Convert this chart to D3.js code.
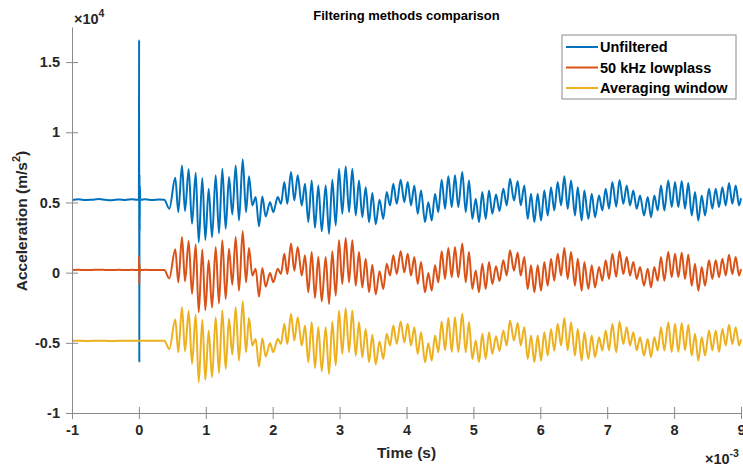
<!DOCTYPE html>
<html>
<head>
<meta charset="utf-8">
<script src="https://cdn.jsdelivr.net/npm/d3@7/dist/d3.min.js"></script>
<style>
  html, body { margin: 0; padding: 0; background: #fff; }
  svg { display: block; font-family: "Liberation Sans", Arial, Helvetica, sans-serif; }
</style>
</head>
<body>
<svg id="chart" width="743" height="467"></svg>
<script>
// Time in milliseconds (axis shows seconds with a x10^-3 multiplier)
const timeMs = [
  -1, -0.9, -0.8, -0.7, -0.6, -0.5, -0.4, -0.3, -0.2, -0.1, -0.03, 0, 0.003, 0.006, 0.009, 0.012, 0.015, 0.02, 0.1, 0.2, 0.3, 0.38,
  0.454, 0.544, 0.589, 0.644, 0.689, 0.744, 0.794, 0.849, 0.894, 0.948, 0.993, 1.043, 1.093, 1.148, 1.197, 1.247, 1.297, 1.347, 1.396, 1.447,
  1.496, 1.552, 1.601, 1.646, 1.695, 1.746, 1.795, 1.845, 1.895, 1.960, 2.009, 2.075, 2.124, 2.174, 2.218, 2.274, 2.323, 2.374, 2.434, 2.483,
  2.532, 2.583, 2.632, 2.682, 2.733, 2.792, 2.842, 2.891, 2.942, 2.991, 3.040, 3.091, 3.141, 3.190, 3.241, 3.290, 3.339, 3.390, 3.440, 3.489,
  3.540, 3.597, 3.653, 3.704, 3.754, 3.803, 3.854, 3.913, 3.967, 4.018, 4.067, 4.117, 4.168, 4.217, 4.277, 4.326, 4.377, 4.426, 4.475, 4.526,
  4.576, 4.625, 4.676, 4.725, 4.774, 4.834, 4.885, 4.934, 4.984, 5.035, 5.084, 5.133, 5.184, 5.233, 5.283, 5.338, 5.390, 5.447, 5.498, 5.547,
  5.607, 5.662, 5.707, 5.761, 5.812, 5.861, 5.911, 5.961, 6.011, 6.060, 6.111, 6.160, 6.209, 6.260, 6.310, 6.359, 6.410, 6.459, 6.519, 6.559,
  6.619, 6.658, 6.718, 6.769, 6.818, 6.878, 6.927, 6.978, 7.027, 7.077, 7.135, 7.184, 7.241, 7.292, 7.341, 7.390, 7.441, 7.491, 7.550, 7.606,
  7.655, 7.704, 7.755, 7.804, 7.854, 7.913, 7.964, 8.014, 8.063, 8.114, 8.163, 8.212, 8.263, 8.313, 8.362, 8.413, 8.462, 8.522, 8.571, 8.622,
  8.672, 8.721, 8.772, 8.821, 8.870, 8.921, 8.971, 9.000
];

// Acceleration (m/s^2), one array per signal, offset for display
const unfiltered = [
  5180, 5220, 5170, 5200, 5240, 5190, 5160, 5210, 5180, 5230, 5190, 5200, 16600, -6400, 7000, 3000, 6200, 5190, 5230, 5170, 5210, 5190,
  4550, 6760, 4310, 7640, 4380, 7360, 3480, 7120, 2170, 6740, 2330, 5980, 2520, 6930, 2810, 7410, 3120, 6810, 4140, 7640,
  3710, 8070, 4310, 6860, 4790, 5380, 3290, 5430, 4000, 5020, 4310, 5380, 4900, 6450, 4900, 7170, 5140, 6930, 4790, 6330,
  3600, 6570, 3190, 6210, 2950, 6210, 2760, 6620, 3360, 7410, 4190, 7570, 4310, 7410, 4070, 6570, 3950, 6090, 3600, 5670,
  3450, 5200, 3830, 5740, 4790, 6330, 4900, 6620, 5020, 6450, 4790, 6210, 4190, 5860, 3600, 5020, 3710, 5620, 4310, 6620,
  4550, 6860, 4670, 6930, 4670, 7170, 4310, 6570, 3830, 5260, 3600, 5740, 3830, 5860, 4190, 5560, 4400, 5980, 4790, 6690,
  5140, 6520, 4790, 6210, 3830, 5620, 3600, 5620, 3710, 5860, 4070, 6090, 4430, 6450, 4790, 6860, 4550, 6570, 4070, 6090,
  3710, 5860, 3830, 5620, 3950, 5500, 4430, 5980, 4550, 6450, 4700, 6600, 4900, 6210, 4790, 5860, 4550, 5500, 4070, 5380,
  3950, 5500, 4430, 6210, 4430, 6570, 4670, 6450, 4670, 6520, 4550, 6380, 4070, 5740, 3710, 5500, 4070, 5980, 4550, 5980,
  4670, 6090, 4790, 6380, 4900, 6210, 4790, 5300
];

const lowpass50k = [
  190, 200, 180, 190, 210, 190, 180, 200, 190, 200, 190, 190, 1210, -860, 600, 0, 300, 190, 200, 180, 190, 190,
  -420, 1660, -690, 2540, -620, 2260, -1520, 2020, -2830, 1640, -2670, 880, -2480, 1830, -2190, 2310, -1880, 1710, -860, 2540,
  -1290, 2970, -690, 1760, -210, 280, -1710, 330, -1000, -30, -690, 280, -100, 1350, -100, 2070, 140, 1830, -210, 1230,
  -1400, 1470, -1810, 1110, -2050, 1110, -2240, 1520, -1640, 2310, -810, 2470, -690, 2310, -930, 1470, -1050, 990, -1400, 570,
  -1550, 100, -1170, 640, -210, 1230, -100, 1520, 20, 1350, -210, 1110, -810, 760, -1400, -30, -1290, 520, -690, 1520,
  -450, 1760, -330, 1830, -330, 2070, -690, 1470, -1170, 160, -1400, 640, -1170, 760, -810, 460, -600, 880, -210, 1590,
  140, 1420, -210, 1110, -1170, 520, -1400, 520, -1290, 760, -930, 990, -570, 1350, -210, 1760, -450, 1470, -930, 990,
  -1290, 760, -1170, 520, -1050, 400, -570, 880, -450, 1350, -300, 1500, -100, 1110, -210, 760, -450, 400, -930, 280,
  -1050, 400, -570, 1110, -570, 1470, -330, 1350, -330, 1420, -450, 1280, -930, 640, -1290, 400, -930, 880, -450, 880,
  -330, 990, -210, 1280, -100, 1110, -210, 250
];

const averagingWindow = [
  -4860, -4850, -4870, -4860, -4850, -4860, -4870, -4860, -4860, -4850, -4860, -4860, -4860, -4860, -4860, -4860, -4860, -4860, -4850, -4860, -4860, -4860,
  -5450, -3340, -5670, -2460, -5600, -2740, -6500, -2980, -7810, -3360, -7650, -4120, -7460, -3170, -7170, -2690, -6860, -3290, -5840, -2460,
  -6270, -2030, -5670, -3240, -5190, -4720, -6690, -4670, -5980, -5030, -5670, -4720, -5080, -3650, -5080, -2930, -4840, -3170, -5190, -3770,
  -6380, -3530, -6790, -3890, -7030, -3890, -7220, -3480, -6620, -2690, -5790, -2530, -5670, -2690, -5910, -3530, -6030, -4010, -6380, -4430,
  -6530, -4900, -6150, -4360, -5190, -3770, -5080, -3480, -4960, -3650, -5190, -3890, -5790, -4240, -6380, -5030, -6270, -4480, -5670, -3480,
  -5530, -3240, -5650, -3170, -5650, -2930, -5670, -3530, -6150, -4840, -6380, -4360, -6150, -4240, -5790, -4540, -5580, -4120, -5190, -3410,
  -4840, -3580, -5190, -3890, -6150, -4480, -6380, -4480, -6270, -4240, -5910, -4010, -5550, -3650, -5190, -3240, -5530, -3530, -5910, -4010,
  -6270, -4240, -6150, -4480, -6030, -4600, -5550, -4120, -5530, -3650, -5680, -3500, -5080, -3890, -5190, -4240, -5530, -4600, -5910, -4720,
  -6030, -4600, -5550, -3890, -5550, -3530, -5650, -3650, -5650, -3580, -5530, -3720, -5910, -4360, -6270, -4600, -5910, -4120, -5530, -4120,
  -5650, -4010, -5190, -3720, -5080, -3890, -5190, -4750
];

const seriesNames = ["Unfiltered", "50 kHz lowplass", "Averaging window"];
const seriesColors = ["#0072BD", "#D95319", "#EDB120"];
const xTicks = [-1, 0, 1, 2, 3, 4, 5, 6, 7, 8, 9];
const yTicks = [-10000, -5000, 0, 5000, 10000, 15000];

const svg = d3.select("#chart");
const axisColor = "#262626";
const gridGray = "#8a8a8a";
const tickFont = 14.5;
// plain hyphen for negative tick labels
const plain = v => String(+v.toFixed(4));

const x = d3.scaleLinear().domain([-1, 9]).range([72, 741]);
const y = d3.scaleLinear().domain([-10000, 17500]).range([413, 27]);

// Signals
const signals = [unfiltered, lowpass50k, averagingWindow];
const line = d3.line()
  .x((d, i) => x(timeMs[i]))
  .y(d => y(d))
  .curve(d3.curveMonotoneX);

const plot = svg.append("g");
signals.forEach((vals, k) => {
  plot.append("path")
    .datum(vals)
    .attr("fill", "none")
    .attr("stroke", seriesColors[k])
    .attr("stroke-width", 2)
    .attr("stroke-linejoin", "round")
    .attr("d", line);
});

// Axes (ticks on both sides of the axis line)
const tick = 6;
const xAxis = svg.append("g")
  .attr("transform", `translate(0,${y.range()[0]})`)
  .call(d3.axisBottom(x).tickValues(xTicks).tickFormat(plain)
    .tickSizeInner(tick).tickSizeOuter(0).tickPadding(6));
xAxis.selectAll(".tick line").attr("y1", -tick);

const yAxis = svg.append("g")
  .attr("transform", `translate(${x.range()[0]},0)`)
  .call(d3.axisLeft(y).tickValues(yTicks).tickFormat(d => plain(d / 10000))
    .tickSizeInner(tick).tickSizeOuter(0).tickPadding(6));
yAxis.selectAll(".tick line").attr("x1", tick);

[xAxis, yAxis].forEach(g => {
  g.select(".domain").attr("stroke", gridGray).attr("stroke-width", 1);
  g.selectAll(".tick line").attr("stroke", gridGray).attr("stroke-width", 1);
  g.selectAll(".tick text")
    .attr("fill", axisColor)
    .attr("font-size", tickFont)
    .attr("font-weight", "bold")
    .attr("font-family", "'Liberation Sans', Arial, sans-serif");
});

// Exponent labels
const yExp = svg.append("text")
  .attr("x", 74).attr("y", 24)
  .attr("fill", axisColor).attr("font-size", tickFont).attr("font-weight", "bold");
yExp.append("tspan").text("\u00d710");
yExp.append("tspan").attr("dy", -7).attr("font-size", 10.5).text("4");

const xExp = svg.append("text")
  .attr("x", 705).attr("y", 464)
  .attr("fill", axisColor).attr("font-size", tickFont).attr("font-weight", "bold");
xExp.append("tspan").text("\u00d710");
xExp.append("tspan").attr("dy", -7).attr("font-size", 10.5).text("-3");

// Title and axis labels
svg.append("text")
  .attr("x", 406.5).attr("y", 20)
  .attr("text-anchor", "middle")
  .attr("fill", "#000").attr("font-size", 13).attr("font-weight", "bold")
  .text("Filtering methods comparison");

svg.append("text")
  .attr("x", 406.5).attr("y", 458)
  .attr("text-anchor", "middle")
  .attr("fill", axisColor).attr("font-size", 15.5).attr("font-weight", "bold")
  .text("Time (s)");

const yl = svg.append("text")
  .attr("transform", "translate(27,221) rotate(-90)")
  .attr("text-anchor", "middle")
  .attr("fill", axisColor).attr("font-size", 15.5).attr("font-weight", "bold");
yl.append("tspan").text("Acceleration (m/s");
yl.append("tspan").attr("dy", -7).attr("font-size", 11).text("2");
yl.append("tspan").attr("dy", 7).text(")");

// Legend
const lg = svg.append("g").attr("transform", "translate(562,35)");
lg.append("rect")
  .attr("width", 174).attr("height", 64)
  .attr("fill", "#fff").attr("stroke", gridGray).attr("stroke-width", 1);
seriesNames.forEach((name, k) => {
  const ry = 12 + k * 20.5;
  lg.append("line")
    .attr("x1", 4).attr("x2", 36).attr("y1", ry).attr("y2", ry)
    .attr("stroke", seriesColors[k]).attr("stroke-width", 2);
  lg.append("text")
    .attr("x", 38).attr("y", ry + 5)
    .attr("fill", "#000").attr("font-size", 14.5).attr("font-weight", "bold")
    .text(name);
});
</script>
</body>
</html>
